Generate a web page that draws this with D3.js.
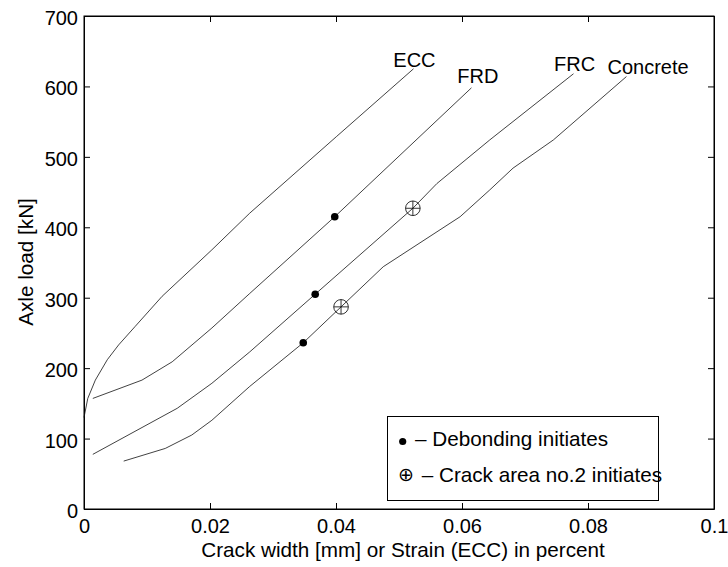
<!DOCTYPE html>
<html>
<head>
<meta charset="utf-8">
<script src="https://cdn.jsdelivr.net/npm/d3@7/dist/d3.min.js"></script>
<style>
  html, body { margin: 0; padding: 0; background: #fff; }
  svg { display: block; }
  text { font-family: "Liberation Sans", Arial, Helvetica, sans-serif; fill: #000; }
</style>
</head>
<body>
<svg id="chart" width="728" height="567"></svg>
<script>
// ---- data ----
const eccX = [0, 0.0006, 0.0018, 0.0037, 0.0055, 0.0081, 0.0124, 0.0203, 0.0263, 0.0401, 0.0523];
const eccY = [130, 157, 183, 212, 233, 259, 302, 368, 420, 529, 625];

const frdX = [0.0014, 0.0092, 0.014, 0.0203, 0.0263, 0.0398, 0.0615];
const frdY = [157, 183, 209, 257, 306, 415, 598];

const frcX = [0.0014, 0.0148, 0.0203, 0.0263, 0.0367, 0.0522, 0.056, 0.0644, 0.0777];
const frcY = [77.6, 143, 178.5, 223, 305, 427, 462, 524, 618];

const concreteX = [0.0063, 0.0129, 0.0171, 0.0203, 0.0263, 0.0348, 0.0408, 0.0475, 0.0597, 0.0644, 0.0681, 0.0745, 0.0861];
const concreteY = [68, 86, 105, 126, 174, 236, 287, 344, 415, 453, 484, 524, 614];

// Debonding initiates (filled dots)
const debondX = [0.0398, 0.0367, 0.0348];
const debondY = [415, 305, 236];
// Crack area no.2 initiates (circle-plus)
const crack2X = [0.0522, 0.0408];
const crack2Y = [427, 287];

const seriesNames = ["ECC", "FRD", "FRC", "Concrete"];
const labelX = [0.0491, 0.05925, 0.0746, 0.0831];
const labelY = [627, 605.5, 622, 617.5];

const xTicks = [0, 0.02, 0.04, 0.06, 0.08, 0.1];
const xTickLabels = ["0", "0.02", "0.04", "0.06", "0.08", "0.1"];
const yTicks = [0, 100, 200, 300, 400, 500, 600, 700];
const yTickLabels = ["0", "100", "200", "300", "400", "500", "600", "700"];

const xTitle = "Crack width [mm] or Strain (ECC) in percent";
const yTitle = "Axle load [kN]";
const legendItems = ["– Debonding initiates", "– Crack area no.2 initiates"];

(function () {
// ---- layout ----
const L = 84, R = 714, T = 16, B = 509;
const svg = d3.select("#chart");
const x = d3.scaleLinear().domain([0, 0.1]).range([L, R]);
const y = d3.scaleLinear().domain([0, 700]).range([B, T]);
const FS = 20;
const FS2 = 20.7;
const tickLen = 6;

// frame
svg.append("rect").attr("x", L).attr("y", T).attr("width", R - L).attr("height", B - T)
  .attr("fill", "none").attr("stroke", "#000").attr("stroke-width", 1);

// axes via d3 (inward ticks)
const fmtX = (d, i) => xTickLabels[i];
const fmtY = (d, i) => yTickLabels[i];
const axB = svg.append("g").attr("transform", `translate(0,${B})`)
  .call(d3.axisBottom(x).tickValues(xTicks).tickFormat(fmtX).tickSizeInner(-tickLen).tickSizeOuter(0).tickPadding(0));
const axT = svg.append("g").attr("transform", `translate(0,${T})`)
  .call(d3.axisTop(x).tickValues(xTicks).tickFormat("").tickSizeInner(-tickLen).tickSizeOuter(0));
const axL = svg.append("g").attr("transform", `translate(${L},0)`)
  .call(d3.axisLeft(y).tickValues(yTicks).tickFormat(fmtY).tickSizeInner(-tickLen).tickSizeOuter(0).tickPadding(0));
const axR = svg.append("g").attr("transform", `translate(${R},0)`)
  .call(d3.axisRight(y).tickValues(yTicks).tickFormat("").tickSizeInner(-tickLen).tickSizeOuter(0));

[axB, axT, axL, axR].forEach(g => {
  g.select(".domain").attr("stroke", "#000").attr("stroke-width", 1);
  g.selectAll(".tick line").attr("stroke", "#000").attr("stroke-width", 1);
  g.selectAll("text").attr("font-family", null).attr("font-size", FS).attr("fill", "#000");
});
axB.selectAll(".tick text").attr("y", 24).attr("dy", null).attr("text-anchor", "middle");
axL.selectAll(".tick text").attr("x", -6).attr("dy", null).attr("y", 8.5).attr("text-anchor", "end");

// axis titles
svg.append("text").attr("x", 403).attr("y", 557).attr("text-anchor", "middle")
  .attr("font-size", FS2).text(xTitle);
svg.append("text").attr("transform", `translate(33,262) rotate(-90)`).attr("text-anchor", "middle")
  .attr("font-size", FS2).text(yTitle);

// curves
const line = d3.line().x(d => x(d[0])).y(d => y(d[1]));
const series = [
  d3.zip(eccX, eccY), d3.zip(frdX, frdY), d3.zip(frcX, frcY), d3.zip(concreteX, concreteY)
];
const plot = svg.append("g");
series.forEach(s => {
  plot.append("path").attr("d", line(s)).attr("fill", "none")
    .attr("stroke", "#111").attr("stroke-width", 0.8);
});

// labels
seriesNames.forEach((n, i) => {
  svg.append("text").attr("x", x(labelX[i])).attr("y", y(labelY[i]))
    .attr("font-size", FS).text(n);
});

// markers: debonding dots
d3.zip(debondX, debondY).forEach(p => {
  plot.append("circle").attr("cx", x(p[0])).attr("cy", y(p[1])).attr("r", 3.8).attr("fill", "#000");
});
// markers: circle-plus
const cr = 7.3;
d3.zip(crack2X, crack2Y).forEach(p => {
  const cx = x(p[0]), cy = y(p[1]);
  const g = plot.append("g");
  g.append("circle").attr("cx", cx).attr("cy", cy).attr("r", cr).attr("fill", "none")
    .attr("stroke", "#000").attr("stroke-width", 0.8);
  g.append("line").attr("x1", cx - cr).attr("x2", cx + cr).attr("y1", cy).attr("y2", cy)
    .attr("stroke", "#000").attr("stroke-width", 0.8);
  g.append("line").attr("x1", cx).attr("x2", cx).attr("y1", cy - cr).attr("y2", cy + cr)
    .attr("stroke", "#000").attr("stroke-width", 0.8);
});

// legend
const lg = svg.append("g");
lg.append("rect").attr("x", 387.5).attr("y", 416.5).attr("width", 271).attr("height", 84)
  .attr("fill", "#fff").attr("stroke", "#000").attr("stroke-width", 1);
lg.append("circle").attr("cx", 402.7).attr("cy", 441.5).attr("r", 3.6).attr("fill", "#000");
lg.append("text").attr("x", 406).attr("y", 481).attr("text-anchor", "middle")
  .attr("font-size", 19).style("font-family", "'DejaVu Sans', sans-serif").text("⊕");
lg.append("text").attr("x", 415).attr("y", 446).attr("font-size", FS2).text(legendItems[0]);
lg.append("text").attr("x", 421.7).attr("y", 481.5).attr("font-size", FS2).text(legendItems[1]);
})();
</script>
</body>
</html>
